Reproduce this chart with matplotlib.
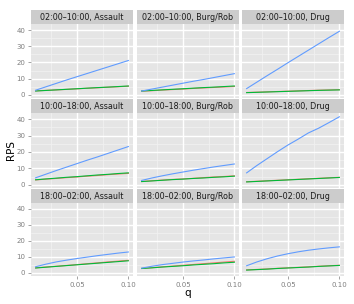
import matplotlib
matplotlib.use("Agg")
import matplotlib.pyplot as plt
from matplotlib.patches import Rectangle

q = [0.01, 0.02, 0.03, 0.04, 0.05, 0.06, 0.07, 0.08, 0.09, 0.10]
times = ["02:00\u201310:00", "10:00\u201318:00", "18:00\u201302:00"]
crimes = ["Assault", "Burg/Rob", "Drug"]

# series per panel: (time, crime) -> red, green, blue
red = {
    (0, 0): [2.5, 2.8, 3.1, 3.4, 3.75, 4.1, 4.4, 4.75, 5.05, 5.35],
    (0, 1): [2.3, 2.6, 3.0, 3.3, 3.6, 4.0, 4.3, 4.6, 4.9, 5.2],
    (0, 2): [1.5, 1.7, 1.9, 2.1, 2.3, 2.5, 2.7, 2.9, 3.05, 3.2],
    (1, 0): [3.0, 3.5, 3.9, 4.4, 4.8, 5.3, 5.7, 6.2, 6.6, 7.0],
    (1, 1): [2.1, 2.5, 2.9, 3.3, 3.6, 4.0, 4.4, 4.8, 5.1, 5.5],
    (1, 2): [1.9, 2.2, 2.5, 2.8, 3.1, 3.4, 3.7, 4.0, 4.3, 4.6],
    (2, 0): [3.2, 3.7, 4.2, 4.7, 5.2, 5.8, 6.3, 6.9, 7.4, 7.9],
    (2, 1): [2.8, 3.3, 3.8, 4.3, 4.8, 5.3, 5.8, 6.3, 6.8, 7.3],
    (2, 2): [1.9, 2.2, 2.5, 2.9, 3.2, 3.5, 3.8, 4.2, 4.5, 4.8],
}
green = {
    (0, 0): [2.4, 2.75, 3.1, 3.45, 3.8, 4.15, 4.5, 4.8, 5.15, 5.5],
    (0, 1): [2.4, 2.75, 3.1, 3.45, 3.8, 4.15, 4.5, 4.8, 5.15, 5.5],
    (0, 2): [1.4, 1.6, 1.8, 2.0, 2.2, 2.4, 2.6, 2.8, 2.95, 3.1],
    (1, 0): [3.1, 3.6, 4.1, 4.6, 5.0, 5.5, 6.0, 6.4, 6.9, 7.3],
    (1, 1): [2.0, 2.4, 2.8, 3.2, 3.5, 3.9, 4.2, 4.6, 4.9, 5.3],
    (1, 2): [1.8, 2.1, 2.4, 2.7, 3.0, 3.3, 3.6, 3.9, 4.2, 4.5],
    (2, 0): [3.1, 3.6, 4.1, 4.6, 5.1, 5.6, 6.1, 6.6, 7.1, 7.6],
    (2, 1): [2.8, 3.2, 3.7, 4.1, 4.5, 5.0, 5.4, 5.8, 6.3, 6.7],
    (2, 2): [1.8, 2.1, 2.4, 2.8, 3.1, 3.4, 3.7, 4.1, 4.4, 4.7],
}
blue = {
    (0, 0): [2.9, 5.0, 7.1, 9.2, 11.2, 13.2, 15.2, 17.2, 19.2, 21.2],
    (0, 1): [2.4, 3.6, 4.8, 6.0, 7.2, 8.4, 9.5, 10.7, 11.9, 13.1],
    (0, 2): [3.9, 7.9, 11.9, 15.8, 19.8, 23.7, 27.6, 31.5, 35.4, 39.2],
    (1, 0): [4.3, 6.5, 8.7, 10.8, 12.9, 15.0, 17.0, 19.1, 21.2, 23.3],
    (1, 1): [2.7, 4.2, 5.5, 6.7, 7.8, 8.9, 9.9, 10.9, 11.8, 12.7],
    (1, 2): [7.3, 11.8, 16.0, 20.2, 24.2, 27.8, 31.6, 34.5, 37.9, 41.4],
    (2, 0): [3.9, 5.5, 6.9, 8.0, 9.0, 9.9, 10.8, 11.6, 12.4, 13.1],
    (2, 1): [3.0, 4.2, 5.2, 6.0, 6.8, 7.5, 8.1, 8.8, 9.4, 10.0],
    (2, 2): [4.5, 6.9, 8.9, 10.6, 12.0, 13.2, 14.2, 15.0, 15.7, 16.3],
}
x_ticks = [0.05, 0.10]
x_ticklabels = ["0.05", "0.10"]
y_ticks = [0, 10, 20, 30, 40]

W, H = 354, 304
fig = plt.figure(figsize=(W / 100, H / 100), dpi=100)
fig.patch.set_facecolor("white")

col_left = [31, 137, 242]
col_w = 102
row_top = [24, 113, 203]
row_bot = [98, 188, 276]
strip_h = 14

colors = {"red": "#F8766D", "green": "#00BA38", "blue": "#619CFF"}

for i in range(3):
    for j in range(3):
        l = col_left[j] / W
        b = 1 - row_bot[i] / H
        h = (row_bot[i] - row_top[i]) / H
        ax = fig.add_axes([l, b, col_w / W, h])
        ax.set_facecolor("#E5E5E5")
        for s in ax.spines.values():
            s.set_visible(False)
        ax.set_xlim(0.0055, 0.1045)
        ax.set_ylim(-1.9, 43.7)
        for yv in [5, 15, 25, 35]:
            ax.axhline(yv, color="#F2F2F2", lw=0.5, zorder=0)
        for xv in [0.025, 0.075]:
            ax.axvline(xv, color="#F2F2F2", lw=0.5, zorder=0)
        for yv in y_ticks:
            ax.axhline(yv, color="white", lw=1.0, zorder=0.5)
        for xv in x_ticks:
            ax.axvline(xv, color="white", lw=1.0, zorder=0.5)
        key = (i, j)
        ax.plot(q, red[key], color=colors["red"], lw=0.8, zorder=2)
        ax.plot(q, green[key], color=colors["green"], lw=0.8, zorder=3)
        ax.plot(q, blue[key], color=colors["blue"], lw=0.8, zorder=4)
        ax.set_xticks(x_ticks)
        ax.set_yticks(y_ticks)
        ax.tick_params(length=2.5, width=0.5, color="#7F7F7F", labelsize=5,
                       labelcolor="#7F7F7F", pad=1.5)
        if j == 0:
            ax.set_yticklabels([str(v) for v in y_ticks])
        else:
            ax.tick_params(axis="y", left=False, labelleft=False)
        if i == 2:
            ax.set_xticklabels(x_ticklabels)
        else:
            ax.tick_params(axis="x", bottom=False, labelbottom=False)
        # strip
        sax = fig.add_axes([l, 1 - (row_top[i]) / H, col_w / W, strip_h / H])
        sax.set_facecolor("#CCCCCC")
        sax.set_xticks([])
        sax.set_yticks([])
        for s in sax.spines.values():
            s.set_visible(False)
        sax.text(0.5, 0.48, f"{times[i]}, {crimes[j]}", ha="center", va="center",
                 fontsize=5.8, color="#1A1A1A", transform=sax.transAxes)

fig.text(187.5 / W, 1 - 293 / H, "q", ha="center", va="center", fontsize=7.5)
fig.text(11 / W, 1 - 150 / H, "RPS", ha="center", va="center", rotation=90, fontsize=7.5)

fig.savefig("out.png", dpi=100)
